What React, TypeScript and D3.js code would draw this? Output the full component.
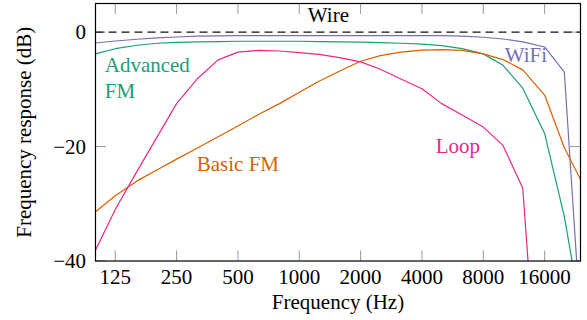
import { useEffect, useRef } from "react";
import * as d3 from "d3";

// third-octave band centres (Hz)
const frequencies = [
  100, 125, 160, 200, 250, 315, 400, 500, 630, 800, 1000, 1250, 1600, 2000,
  2500, 3150, 4000, 5000, 6300, 8000, 10000, 12500, 16000, 20000, 25000,
];

// response in dB, one value per band
const wifi = [
  -1.9, -1.55, -1.25, -1.0, -0.85, -0.7, -0.65, -0.6, -0.6, -0.6, -0.6, -0.6,
  -0.6, -0.6, -0.6, -0.6, -0.6, -0.6, -0.7, -0.9, -1.2, -1.7, -2.6, -7.0, -60,
];
const advancedFm = [
  -3.8, -2.9, -2.3, -1.95, -1.8, -1.7, -1.65, -1.6, -1.6, -1.6, -1.6, -1.65,
  -1.7, -1.75, -1.85, -1.95, -2.1, -2.35, -2.9, -3.8, -5.8, -9.8, -17.7, -32.3,
  -52,
];
const basicFm = [
  -31.4, -28.6, -26.0, -24.1, -22.2, -20.3, -18.3, -16.4, -14.4, -12.5, -10.5,
  -8.6, -6.7, -5.1, -4.1, -3.5, -3.15, -3.05, -3.2, -3.8, -4.8, -6.6, -11.0,
  -20.2, -27.0,
];
const loop = [
  -38.1, -31.0, -24.3, -18.4, -12.5, -8.2, -4.85, -3.5, -3.2, -3.3, -3.6, -3.9,
  -4.5, -5.2, -6.5, -8.2, -9.9, -12.5, -14.5, -16.6, -19.8, -27.3, -80, -90,
  -100,
];
const wireLevel = 0;

const xTickValues = [125, 250, 500, 1000, 2000, 4000, 8000, 16000];
const yTickValues = [0, -20, -40];

const series = [
  { name: "WiFi", values: wifi, color: "#7570b3" },
  { name: "Advanced FM", values: advancedFm, color: "#1b9e77" },
  { name: "Basic FM", values: basicFm, color: "#d95f02" },
  { name: "Loop", values: loop, color: "#e7298a" },
];

const labels = [
  { lines: ["Wire"], f: 1390, db: 1.77, anchor: "middle", color: "#000" },
  { lines: ["WiFi"], f: 12960, db: -5.2, anchor: "middle", color: "#7570b3" },
  { lines: ["Advanced", "FM"], f: 111, db: -6.9, anchor: "start", color: "#1b9e77" },
  { lines: ["Basic FM"], f: 500, db: -24.3, anchor: "middle", color: "#d95f02" },
  { lines: ["Loop"], f: 6010, db: -21.1, anchor: "middle", color: "#e7298a" },
];

const width = 587;
const height = 320;
const margin = { top: 3.5, right: 6.5, bottom: 59, left: 95.5 };
const font = "Liberation Serif, Times New Roman, serif";

function ResponseChart() {
  const svgRef = useRef<SVGSVGElement>(null);

  useEffect(() => {
    const svg = d3.select(svgRef.current);
    svg.selectAll("*").remove();

    const x = d3
      .scaleLog()
      .domain([100, 24000])
      .range([margin.left, width - margin.right]);
    const y = d3
      .scaleLinear()
      .domain([-40, 5])
      .range([height - margin.bottom, margin.top]);

    const [x0, x1] = x.range();
    const [y0, y1] = y.range();

    svg
      .append("defs")
      .append("clipPath")
      .attr("id", "plot-clip")
      .append("rect")
      .attr("x", x0)
      .attr("y", y1)
      .attr("width", x1 - x0)
      .attr("height", y0 - y1);

    // grey inside ticks
    const tickLen = 10.5;
    const ticks = svg.append("g").attr("stroke", "#9a9a9a").attr("stroke-width", 1);
    xTickValues.forEach((v) => {
      ticks.append("line").attr("x1", x(v)).attr("x2", x(v)).attr("y1", y0).attr("y2", y0 - tickLen);
      ticks.append("line").attr("x1", x(v)).attr("x2", x(v)).attr("y1", y1).attr("y2", y1 + tickLen);
    });
    yTickValues.forEach((v) => {
      ticks.append("line").attr("x1", x0).attr("x2", x0 + tickLen).attr("y1", y(v)).attr("y2", y(v));
      ticks.append("line").attr("x1", x1).attr("x2", x1 - tickLen).attr("y1", y(v)).attr("y2", y(v));
    });

    const plot = svg.append("g").attr("clip-path", "url(#plot-clip)");

    plot
      .append("line")
      .attr("x1", x0)
      .attr("x2", x1)
      .attr("y1", y(wireLevel))
      .attr("y2", y(wireLevel))
      .attr("stroke", "#111")
      .attr("stroke-width", 1.2)
      .attr("stroke-dasharray", "8,5");

    const line = d3
      .line<number>()
      .x((_, i) => x(frequencies[i]))
      .y((d) => y(d));

    plot
      .selectAll(".series")
      .data(series)
      .join("path")
      .attr("class", "series")
      .attr("d", (s) => line(s.values))
      .attr("fill", "none")
      .attr("stroke", (s) => s.color)
      .attr("stroke-width", 1.2)
      .attr("stroke-linejoin", "round");

    // frame
    svg
      .append("rect")
      .attr("x", x0)
      .attr("y", y1)
      .attr("width", x1 - x0)
      .attr("height", y0 - y1)
      .attr("fill", "none")
      .attr("stroke", "#000")
      .attr("stroke-width", 1.2);

    const text = (sel: any) =>
      sel.style("font-family", font).style("font-size", "21px");

    // tick labels
    svg
      .selectAll(".xlabel")
      .data(xTickValues)
      .join("text")
      .attr("class", "xlabel")
      .attr("x", (d) => x(d))
      .attr("y", 284)
      .attr("text-anchor", "middle")
      .call(text)
      .text((d) => String(d));

    svg
      .selectAll(".ylabel")
      .data(yTickValues)
      .join("text")
      .attr("class", "ylabel")
      .attr("x", 86)
      .attr("y", (d) => y(d))
      .attr("dy", "0.34em")
      .attr("text-anchor", "end")
      .call(text)
      .text((d) => (d < 0 ? "\u2212" + Math.abs(d) : String(d)));

    svg
      .append("text")
      .attr("x", (x0 + x1) / 2)
      .attr("y", 309)
      .attr("text-anchor", "middle")
      .call(text)
      .text("Frequency (Hz)");

    svg
      .append("text")
      .attr("transform", `translate(31, ${(y0 + y1) / 2}) rotate(-90)`)
      .attr("text-anchor", "middle")
      .call(text)
      .text("Frequency response (dB)");

    // series labels
    labels.forEach((l) => {
      const t = svg
        .append("text")
        .attr("x", x(l.f))
        .attr("y", y(l.db))
        .attr("text-anchor", l.anchor)
        .call(text)
        .attr("fill", l.color);
      l.lines.forEach((s, i) => {
        t.append("tspan")
          .attr("x", x(l.f))
          .attr("dy", i === 0 ? 0 : 26)
          .text(s);
      });
    });
  }, []);

  return <svg ref={svgRef} width={width} height={height} />;
}

export default function App() {
  return (
    <div style={{ position: "absolute", left: 0, top: 0 }}>
      <ResponseChart />
    </div>
  );
}
